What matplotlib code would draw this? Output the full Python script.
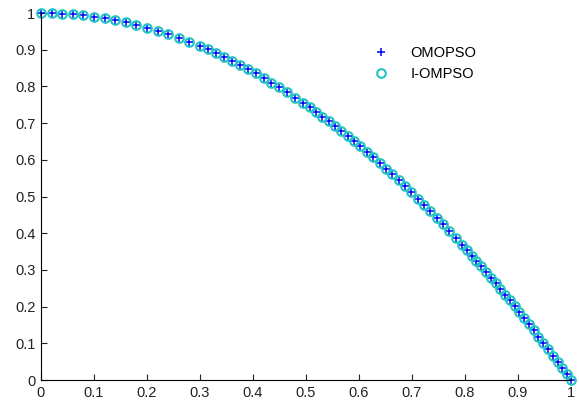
import numpy as np
import matplotlib
matplotlib.use('Agg')
import matplotlib.pyplot as plt
from matplotlib.ticker import FuncFormatter

# Pareto front points (denser toward the lower right)
omopso_x = [0.0, 0.02, 0.04, 0.06, 0.08, 0.10, 0.12, 0.14, 0.16, 0.18, 0.20, 0.22,
            0.24, 0.26, 0.28, 0.30, 0.315, 0.33, 0.345, 0.36, 0.375, 0.39, 0.405,
            0.42, 0.435, 0.45, 0.465, 0.48, 0.495, 0.507, 0.519, 0.531, 0.543,
            0.555, 0.567, 0.579, 0.591, 0.603, 0.615, 0.627, 0.639, 0.651, 0.663,
            0.675, 0.687, 0.699, 0.711, 0.723, 0.735, 0.747, 0.759, 0.771, 0.783,
            0.795, 0.804, 0.813, 0.822, 0.831, 0.840, 0.849, 0.858, 0.867, 0.876,
            0.885, 0.894, 0.903, 0.912, 0.921, 0.930, 0.939, 0.948, 0.957, 0.966,
            0.975, 0.984, 0.992, 1.0]
omopso_y = [1.000, 0.9996, 0.9984, 0.9964, 0.9936, 0.990, 0.9856, 0.9804, 0.9744,
            0.9676, 0.960, 0.9516, 0.9424, 0.9324, 0.9216, 0.910, 0.9008, 0.8911,
            0.8810, 0.8704, 0.8594, 0.8479, 0.8360, 0.8236, 0.8108, 0.7975, 0.7838,
            0.7696, 0.7550, 0.7430, 0.7306, 0.7180, 0.7052, 0.6920, 0.6785, 0.6648,
            0.6507, 0.6364, 0.6218, 0.6069, 0.5917, 0.5762, 0.5604, 0.5444, 0.5280,
            0.5114, 0.4945, 0.4773, 0.4598, 0.4420, 0.4239, 0.4056, 0.3869, 0.3680,
            0.3536, 0.3390, 0.3243, 0.3094, 0.2944, 0.2792, 0.2638, 0.2483, 0.2326,
            0.2168, 0.2008, 0.1846, 0.1683, 0.1518, 0.1351, 0.1183, 0.1013, 0.0842,
            0.0668, 0.0494, 0.0317, 0.0159, 0.0]

iompso_x = [0.0, 0.02, 0.04, 0.06, 0.08, 0.10, 0.12, 0.14, 0.16, 0.18, 0.20, 0.22,
            0.24, 0.26, 0.28, 0.30, 0.315, 0.33, 0.345, 0.36, 0.375, 0.39, 0.405,
            0.42, 0.435, 0.45, 0.465, 0.48, 0.495, 0.507, 0.519, 0.531, 0.543,
            0.555, 0.567, 0.579, 0.591, 0.603, 0.615, 0.627, 0.639, 0.651, 0.663,
            0.675, 0.687, 0.699, 0.711, 0.723, 0.735, 0.747, 0.759, 0.771, 0.783,
            0.795, 0.804, 0.813, 0.822, 0.831, 0.840, 0.849, 0.858, 0.867, 0.876,
            0.885, 0.894, 0.903, 0.912, 0.921, 0.930, 0.939, 0.948, 0.957, 0.966,
            0.975, 0.984, 0.992, 1.0]
iompso_y = [1.000, 0.9996, 0.9984, 0.9964, 0.9936, 0.990, 0.9856, 0.9804, 0.9744,
            0.9676, 0.960, 0.9516, 0.9424, 0.9324, 0.9216, 0.910, 0.9008, 0.8911,
            0.8810, 0.8704, 0.8594, 0.8479, 0.8360, 0.8236, 0.8108, 0.7975, 0.7838,
            0.7696, 0.7550, 0.7430, 0.7306, 0.7180, 0.7052, 0.6920, 0.6785, 0.6648,
            0.6507, 0.6364, 0.6218, 0.6069, 0.5917, 0.5762, 0.5604, 0.5444, 0.5280,
            0.5114, 0.4945, 0.4773, 0.4598, 0.4420, 0.4239, 0.4056, 0.3869, 0.3680,
            0.3536, 0.3390, 0.3243, 0.3094, 0.2944, 0.2792, 0.2638, 0.2483, 0.2326,
            0.2168, 0.2008, 0.1846, 0.1683, 0.1518, 0.1351, 0.1183, 0.1013, 0.0842,
            0.0668, 0.0494, 0.0317, 0.0159, 0.0]

ticks = [0, 0.1, 0.2, 0.3, 0.4, 0.5, 0.6, 0.7, 0.8, 0.9, 1]

plt.rcParams['font.family'] = ['Liberation Sans', 'DejaVu Sans']
fig = plt.figure(figsize=(5.79, 4.05), dpi=100)
ax = fig.add_axes([0.0708, 0.0617, 0.915, 0.906])

ax.plot(omopso_x, omopso_y, '+', color='#0000ff', markersize=5.5, markeredgewidth=1.1,
        label='OMOPSO', clip_on=False)
ax.plot(iompso_x, iompso_y, 'o', color='#22c4c4', markerfacecolor='none', markersize=6.2,
        markeredgewidth=1.5, label='I-OMPSO', clip_on=False)

ax.set_xlim(0, 1)
ax.set_ylim(0, 1)
ax.set_xticks(ticks)
ax.set_yticks(ticks)
fmt = FuncFormatter(lambda v, p: '%g' % v)
ax.xaxis.set_major_formatter(fmt)
ax.yaxis.set_major_formatter(fmt)
ax.tick_params(direction='in', length=4, labelsize=10.5, colors='#222222', pad=4)
ax.spines['top'].set_visible(False)
ax.spines['right'].set_visible(False)

ax.legend(frameon=False, loc='upper left', bbox_to_anchor=(0.59, 0.945),
          fontsize=10.5, handletextpad=1.0, labelspacing=0.45)

fig.savefig('out.png', dpi=100)
